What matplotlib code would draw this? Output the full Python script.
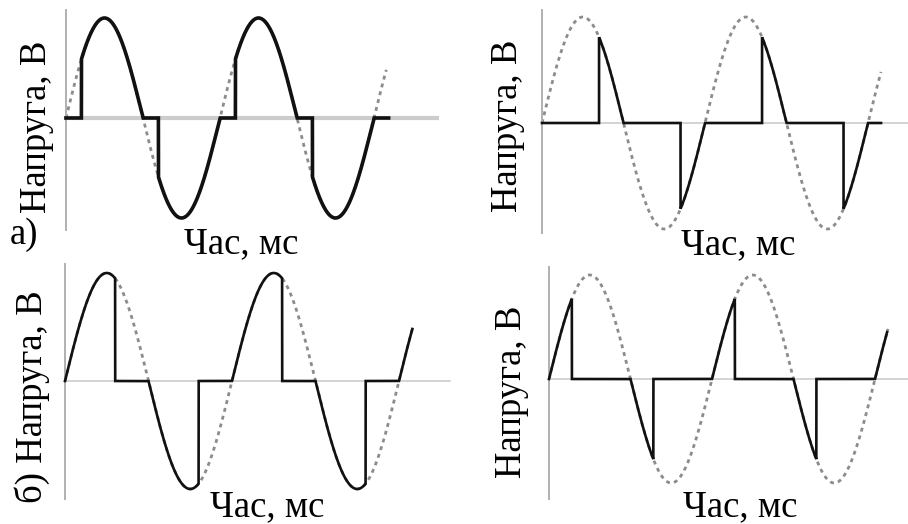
import numpy as np
import matplotlib.pyplot as plt

W, H = 908, 524

# мережа і вимірювання
U_m = 311.0      # амплітуда, В
T = 20.0         # період, мс
t_sine_end = 41.6

# керування для кожної панелі: затримка вмикання або момент вимикання в півперіоді, мс
modes = ['delay', 'delay', 'cut', 'cut']
angles_ms = [2.0, 7.0, 6.0, 2.8]
t_out_end = [41.9, 41.6, 41.6, 41.5]

ylabels = ['Напруга, В', 'Напруга, В', 'б) Напруга, В', 'Напруга, В']
xlabel = 'Час, мс'

# розміщення (пікселі картинки): початок t=0, пікселів на мс, лінія нуля, пікселів на амплітуду
layout = [
    dict(t0=66, ppm=7.7, zero=118, amp=100, left=55, right=437, top=10, bottom=230),
    dict(t0=542, ppm=8.15, zero=123, amp=106, left=530, right=908, top=10, bottom=233),
    dict(t0=65, ppm=8.35, zero=381, amp=108, left=55, right=450, top=264, bottom=499),
    dict(t0=549, ppm=8.15, zero=379, amp=104, left=538, right=908, top=267, bottom=499),
]
ylab_pos = [(37, 127), (508, 126), (32, 397), (512, 392)]
xlab_pos = [(241, 244), (738, 245), (267, 507), (740, 507)]
out_lw = [2.6, 1.9, 1.9, 1.9]
zero_lw = [3.0, 1.1, 1.1, 1.1]
zero_col = ['#cccccc', '#c8c8c8', '#c8c8c8', '#c8c8c8']

serif = ['Liberation Serif', 'DejaVu Serif']
fs = 26.5

fig = plt.figure(figsize=(W / 100, H / 100), dpi=100)

for i, L in enumerate(layout):
    ax = fig.add_axes([L['left'] / W, 1 - L['bottom'] / H,
                       (L['right'] - L['left']) / W, (L['bottom'] - L['top']) / H])
    xmin = (L['left'] - L['t0']) / L['ppm']
    xmax = (L['right'] - L['t0']) / L['ppm']
    ymax = (L['zero'] - L['top']) / L['amp'] * U_m
    ymin = -(L['bottom'] - L['zero']) / L['amp'] * U_m
    ax.set_xlim(xmin, xmax)
    ax.set_ylim(ymin, ymax)

    # мережева напруга (пунктир)
    t = np.linspace(0, t_sine_end, 6000)
    u = U_m * np.sin(2 * np.pi * t / T)
    ax.plot(t, u, color='#8c8c8c', lw=2.0, ls=(0, (1.4, 1.5)), zorder=2)

    # напруга на навантаженні
    t2 = np.linspace(0, t_out_end[i], 20000)
    u2 = U_m * np.sin(2 * np.pi * t2 / T)
    phase = np.mod(t2, T / 2)
    if modes[i] == 'delay':
        on = phase >= angles_ms[i]
    else:
        on = phase < angles_ms[i]
    ax.plot(t2, np.where(on, u2, 0.0), color='#111111', lw=out_lw[i],
            solid_joinstyle='miter', zorder=3)

    for s in ['top', 'right']:
        ax.spines[s].set_visible(False)
    ax.spines['left'].set_position(('data', 0))
    ax.spines['left'].set_color('#b0b0b0')
    ax.spines['left'].set_linewidth(1.4)
    ax.spines['bottom'].set_position(('data', 0))
    ax.spines['bottom'].set_bounds(0, xmax)
    ax.spines['bottom'].set_color(zero_col[i])
    ax.spines['bottom'].set_linewidth(zero_lw[i])
    ax.spines['bottom'].set_zorder(1)
    ax.set_xticks([])
    ax.set_yticks([])
    ax.patch.set_alpha(0)

    x, y = ylab_pos[i]
    fig.text(x / W, 1 - y / H, ylabels[i], rotation=90, ha='center', va='center',
             fontsize=fs, family=serif)
    x, y = xlab_pos[i]
    fig.text(x / W, 1 - y / H, xlabel, ha='center', va='center',
             fontsize=fs, family=serif)

fig.text(24 / W, 1 - 235 / H, 'а)', ha='center', va='center', fontsize=fs, family=serif)

fig.savefig('out.png', dpi=100)
